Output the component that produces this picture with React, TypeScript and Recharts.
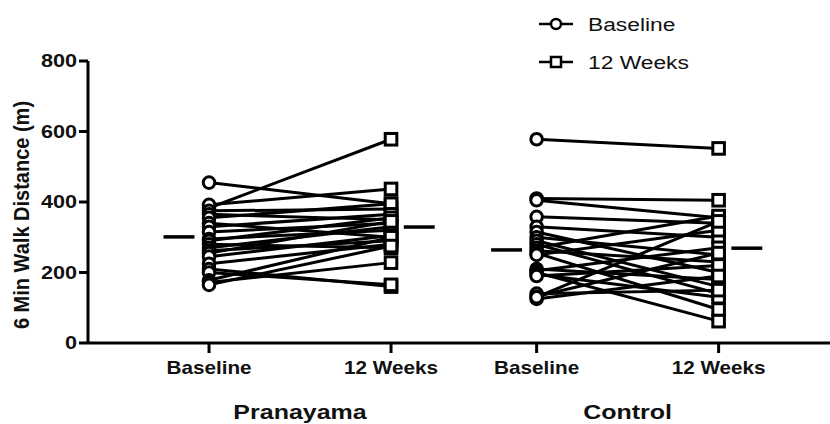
import React from 'react';
import { LineChart, Line, XAxis, YAxis, Legend } from 'recharts';

const xCategories = ['Baseline', '12 Weeks', 'Baseline', '12 Weeks'];
const xPositions = [1, 2, 2.8, 3.8];
const groupLabels = ['Pranayama', 'Control'];
const groupPositions = [1.5, 3.3];
const yTicks = [0, 200, 400, 600, 800];
const legendLabels = ['Baseline', '12 Weeks'];

const pranayamaBaseline = [455, 383, 392, 375, 365, 355, 340, 330, 315, 295, 290, 280, 270, 262, 255, 245, 225, 210, 200, 178, 172, 165];
const pranayamaWeek12 = [395, 578, 437, 380, 350, 395, 300, 365, 340, 320, 355, 270, 330, 290, 345, 305, 280, 160, 165, 300, 228, 275];
const controlBaseline = [578, 410, 405, 358, 330, 315, 300, 290, 280, 270, 262, 255, 250, 210, 205, 200, 195, 190, 140, 132, 125, 130];
const controlWeek12 = [552, 405, 355, 340, 300, 200, 250, 160, 140, 360, 230, 95, 320, 180, 270, 62, 130, 220, 150, 255, 190, 345];
const meanValues = [301, 329, 264, 269];

const FONT = '"Liberation Sans", Arial, sans-serif';

type Pt = { x: number; y: number };

const groups = [
  { base: pranayamaBaseline, week: pranayamaWeek12 },
  { base: controlBaseline, week: controlWeek12 },
];

const subjectSeries: { id: string; data: Pt[] }[] = [];
groups.forEach((g, gi) => {
  g.base.forEach((b, i) => {
    subjectSeries.push({
      id: `g${gi}-s${i}`,
      data: [
        { x: xPositions[gi * 2], y: b },
        { x: xPositions[gi * 2 + 1], y: g.week[i] },
      ],
    });
  });
});

const meanSeries: { id: string; data: Pt[] }[] = meanValues.map((m, k) => {
  const pos = xPositions[k];
  const isBase = k % 2 === 0;
  const a = isBase ? pos - 0.25 : pos + 0.07;
  const b = isBase ? pos - 0.08 : pos + 0.24;
  return { id: `mean${k}`, data: [{ x: a, y: m }, { x: b, y: m }] };
});

const renderDot = (props: any) => {
  const { cx, cy, index } = props;
  if (cx == null || cy == null) return <g key={`e-${index}`} />;
  if (index === 0)
    return <circle key={`c-${index}`} cx={cx} cy={cy} r={5.8} fill="#fff" stroke="#000" strokeWidth={3} />;
  return (
    <rect key={`s-${index}`} x={cx - 5.8} y={cy - 5.8} width={11.6} height={11.6} fill="#fff" stroke="#000" strokeWidth={3} />
  );
};

const XTick = (props: any) => {
  const { x, y, payload } = props;
  const idx = xPositions.indexOf(payload.value);
  return (
    <g transform={`translate(${x},${y})`}>
      <text transform="scale(1.15,1)" textAnchor="middle" y={19} fontFamily={FONT} fontWeight="bold" fontSize={18} fill="#111">
        {xCategories[idx]}
      </text>
    </g>
  );
};

const GroupTick = (props: any) => {
  const { x, y, payload } = props;
  const idx = groupPositions.indexOf(payload.value);
  return (
    <g transform={`translate(${x},${y})`}>
      <text transform="scale(1.25,1)" textAnchor="middle" y={36} fontFamily={FONT} fontWeight="bold" fontSize={20} fill="#111">
        {groupLabels[idx]}
      </text>
    </g>
  );
};

const YTick = (props: any) => {
  const { x, y, payload } = props;
  return (
    <g transform={`translate(${x},${y})`}>
      <text transform="scale(1.2,1)" textAnchor="end" dy="0.36em" fontFamily={FONT} fontWeight="bold" fontSize={18} fill="#111">
        {payload.value}
      </text>
    </g>
  );
};

const YLabel = () => (
  <text
    transform="translate(29,215) scale(1.1,1) rotate(-90)"
    textAnchor="middle"
    fontFamily={FONT}
    fontWeight="bold"
    fontSize={20}
    fill="#111"
  >
    6 Min Walk Distance (m)
  </text>
);

const LegendContent = () => (
  <svg width={220} height={80}>
    {legendLabels.map((lab, i) => {
      const cy = i === 0 ? 24 : 62;
      return (
        <g key={lab}>
          <line x1={19} x2={53} y1={cy} y2={cy} stroke="#000" strokeWidth={2.5} />
          {i === 0 ? (
            <circle cx={36} cy={cy} r={5} fill="#fff" stroke="#000" strokeWidth={2.5} />
          ) : (
            <rect x={31} y={cy - 5} width={10} height={10} fill="#fff" stroke="#000" strokeWidth={2.5} />
          )}
          <text transform={`translate(68,${cy + 7}) scale(1.2,1)`} fontFamily={FONT} fontSize={19} fill="#111">
            {lab}
          </text>
        </g>
      );
    })}
  </svg>
);

export default function App() {
  return (
    <div style={{ position: 'absolute', left: 0, top: 0, width: 830, height: 424, background: '#fff' }}>
      <LineChart width={830} height={424} margin={{ top: 61, right: 0, bottom: 0, left: 0 }}>
        <XAxis
          xAxisId={0}
          type="number"
          dataKey="x"
          domain={[0.335, 4.412]}
          allowDataOverflow
          ticks={xPositions}
          tick={<XTick />}
          height={40}
          stroke="#000"
          axisLine={{ stroke: '#000', strokeWidth: 3 }}
          tickLine={{ stroke: '#000', strokeWidth: 3 }}
          tickSize={10}
          tickMargin={2}
          interval={0}
        />
        <XAxis
          xAxisId="g"
          type="number"
          dataKey="x"
          domain={[0.335, 4.412]}
          allowDataOverflow
          ticks={groupPositions}
          tick={<GroupTick />}
          height={41}
          axisLine={false}
          tickLine={false}
          tickSize={0}
          tickMargin={0}
          interval={0}
        />
        <YAxis
          type="number"
          domain={[0, 800]}
          ticks={yTicks}
          width={88}
          tick={<YTick />}
          axisLine={{ stroke: '#000', strokeWidth: 3 }}
          tickLine={{ stroke: '#000', strokeWidth: 3 }}
          tickSize={9}
          tickMargin={2}
          interval={0}
          label={<YLabel />}
        />
        <Legend
          layout="vertical"
          align="center"
          verticalAlign="middle"
          content={<LegendContent />}
          wrapperStyle={{ position: 'absolute', left: 520, top: 0, width: 220, height: 80 }}
        />
        {subjectSeries.map((s) => (
          <Line
            key={s.id}
            xAxisId={0}
            data={s.data}
            dataKey="y"
            type="linear"
            stroke="#000"
            strokeWidth={3}
            dot={renderDot}
            activeDot={false}
            isAnimationActive={false}
            legendType="none"
          />
        ))}
        {meanSeries.map((s) => (
          <Line
            key={s.id}
            xAxisId={0}
            data={s.data}
            dataKey="y"
            type="linear"
            stroke="#000"
            strokeWidth={3.5}
            dot={false}
            activeDot={false}
            isAnimationActive={false}
            legendType="none"
          />
        ))}
      </LineChart>
    </div>
  );
}
